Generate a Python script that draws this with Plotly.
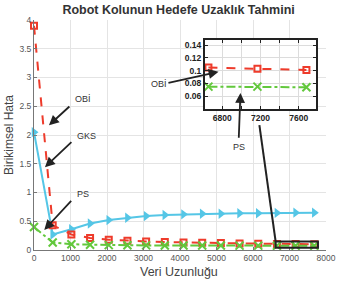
import plotly.graph_objects as go

# ---- data ----
x_vals = [0, 512, 1024, 1536, 2048, 2560, 3072, 3584, 4096, 4608, 5120, 5632, 6144, 6656, 7168, 7680]
obi = [3.9, 0.43, 0.27, 0.21, 0.18, 0.16, 0.15, 0.14, 0.13, 0.125, 0.12, 0.115, 0.11, 0.105, 0.103, 0.101]
gks = [2.05, 0.27, 0.36, 0.46, 0.52, 0.56, 0.59, 0.61, 0.62, 0.63, 0.63, 0.64, 0.64, 0.645, 0.65, 0.65]
ps = [0.4, 0.13, 0.1, 0.09, 0.085, 0.082, 0.08, 0.079, 0.078, 0.077, 0.077, 0.076, 0.076, 0.075, 0.075, 0.074]

inset_x_range = [6620, 7780]
inset_y_range = [0.04, 0.148]
inset_x_ticks = [6800, 7200, 7600]
inset_y_ticks = [0.06, 0.08, 0.1, 0.12, 0.14]
inset_y_labels = ["0.06", "0.08", "0.1", "0.12", "0.14"]

title = "Robot Kolunun Hedefe Uzaklık Tahmini"
xlabel = "Veri Uzunluğu"
ylabel = "Birikimsel Hata"

RED = "#ee3b2b"
CYAN = "#55c6e6"
GREEN = "#62c83c"
FONT = "Liberation Sans"

fig = go.Figure()

def add_series(xa, ya, show_range=None):
    xs, o, g, p = x_vals, obi, gks, ps
    if show_range is not None:
        idx = [i for i, v in enumerate(x_vals) if show_range[0] <= v <= show_range[1]]
        xs = [x_vals[i] for i in idx]
        o = [obi[i] for i in idx]
        g = [gks[i] for i in idx]
        p = [ps[i] for i in idx]
    if show_range is None:
        fig.add_trace(go.Scatter(x=xs, y=g, mode="lines+markers", xaxis=xa, yaxis=ya,
                                 line=dict(color=CYAN, width=2),
                                 marker=dict(symbol="triangle-right", size=9, color=CYAN),
                                 showlegend=False, cliponaxis=False))
    fig.add_trace(go.Scatter(x=xs, y=o, mode="lines+markers", xaxis=xa, yaxis=ya,
                             line=dict(color=RED, width=2, dash="dash"),
                             marker=dict(symbol="square-open", size=6, color=RED, line=dict(width=2)),
                             showlegend=False, cliponaxis=False))
    fig.add_trace(go.Scatter(x=xs, y=p, mode="lines+markers", xaxis=xa, yaxis=ya,
                             line=dict(color=GREEN, width=2, dash="dashdot"),
                             marker=dict(symbol="x-thin", size=8, color=GREEN, line=dict(width=2, color=GREEN)),
                             showlegend=False, cliponaxis=False))

add_series("x", "y")
add_series("x2", "y2", show_range=inset_x_range)

# pixel-based layout helpers
W, H = 337, 281
L, R, T, B = 34, 11, 20, 31
pw, ph = W - L - R, H - T - B

def px2paper_x(px):
    return (px - L) / pw

def px2paper_y(py):
    return (H - B - py) / ph

fig.update_layout(
    template="none",
    width=W, height=H,
    margin=dict(l=L, r=R, t=T, b=B, pad=0),
    paper_bgcolor="white", plot_bgcolor="white",
    font=dict(family=FONT, color="#444"),
    title=dict(text=title, x=0.53, xanchor="center", y=1 - 10 / H, yanchor="middle",
               yref="container", font=dict(size=12.5, color="#333", family=FONT, weight="bold")),
    xaxis=dict(range=[0, 8000], dtick=1000, showgrid=True, gridcolor="#e4e4e4", gridwidth=1,
               zeroline=False, showline=True, linecolor="#777", linewidth=1,
               ticks="inside", ticklen=3, tickcolor="#777",
               tickfont=dict(size=8.5, color="#555"), domain=[0, 1]),
    yaxis=dict(range=[0, 4], dtick=0.5, showgrid=True, gridcolor="#e4e4e4", gridwidth=1,
               zeroline=False, showline=True, linecolor="#777", linewidth=1,
               ticks="inside", ticklen=3, tickcolor="#777",
               tickfont=dict(size=8.5, color="#555"), domain=[0, 1]),
    xaxis2=dict(range=inset_x_range, tickvals=inset_x_ticks, anchor="y2",
                domain=[px2paper_x(205), px2paper_x(316)],
                showgrid=True, gridcolor="#dcdcdc", zeroline=False,
                minor=dict(tickvals=[7000, 7400], showgrid=True, gridcolor="#dcdcdc", ticks="inside", ticklen=3, tickcolor="#222"),
                showline=True, linecolor="#222", linewidth=2, mirror="allticks",
                ticks="inside", ticklen=3, tickcolor="#222",
                tickfont=dict(size=8.5, color="#222", family=FONT, weight="bold")),
    yaxis2=dict(range=inset_y_range, tickvals=inset_y_ticks, ticktext=inset_y_labels,
                anchor="x2",
                domain=[px2paper_y(109), px2paper_y(40)],
                showgrid=True, gridcolor="#dcdcdc", zeroline=False,
                showline=True, linecolor="#222", linewidth=2, mirror="allticks",
                ticks="inside", ticklen=3, tickcolor="#222",
                tickfont=dict(size=8.5, color="#222", family=FONT, weight="bold")),
)

# white background for inset (hides main grid beneath it)
fig.add_shape(type="rect", xref="x2 domain", yref="y2 domain", x0=0, x1=1, y0=0, y1=1,
              fillcolor="white", line=dict(width=0), layer="below")

# zoom rectangle on main axes and connecting line
fig.add_shape(type="rect", xref="x", yref="y", x0=inset_x_range[0], x1=inset_x_range[1],
              y0=inset_y_range[0], y1=inset_y_range[1], line=dict(color="#222", width=2), layer="above")
fig.add_shape(type="line", xref="x", yref="y", x0=6175, y0=2.17, x1=inset_x_range[0], y1=inset_y_range[1],
              line=dict(color="#222", width=2), layer="above")

# arrows (head x,y ; tail ax,ay)
arrows = [
    (410, 2.17, 1011, 2.52),
    (300, 1.44, 1066, 1.90),
    (281, 0.35, 1057, 0.88),
    (5055, 3.10, 3642, 2.90),
    (5656, 2.73, 5609, 1.925),
]
for hx, hy, tx, ty in arrows:
    fig.add_annotation(x=hx, y=hy, ax=tx, ay=ty, xref="x", yref="y", axref="x", ayref="y",
                       text="", showarrow=True, arrowhead=2, arrowsize=1.1, arrowwidth=1.8,
                       arrowcolor="#222")

labels = [
    ("OBİ", 1339, 2.62),
    ("GKS", 1448, 1.98),
    ("PS", 1339, 0.98),
    ("OBİ", 3415, 2.89),
    ("PS", 5628, 1.79),
]
for t, lx, ly in labels:
    fig.add_annotation(x=lx, y=ly, xref="x", yref="y", text=t, showarrow=False,
                       font=dict(size=9, color="#333", family=FONT))

# axis titles
fig.add_annotation(x=px2paper_x(179), y=px2paper_y(272), xref="paper", yref="paper",
                   text=xlabel, showarrow=False, font=dict(size=12.5, color="#444", family=FONT),
                   xanchor="center", yanchor="middle")
fig.add_annotation(x=px2paper_x(9), y=px2paper_y(135), xref="paper", yref="paper",
                   text=ylabel, showarrow=False, textangle=-90,
                   font=dict(size=12, color="#444", family=FONT),
                   xanchor="center", yanchor="middle")

fig.write_html("out.html")
